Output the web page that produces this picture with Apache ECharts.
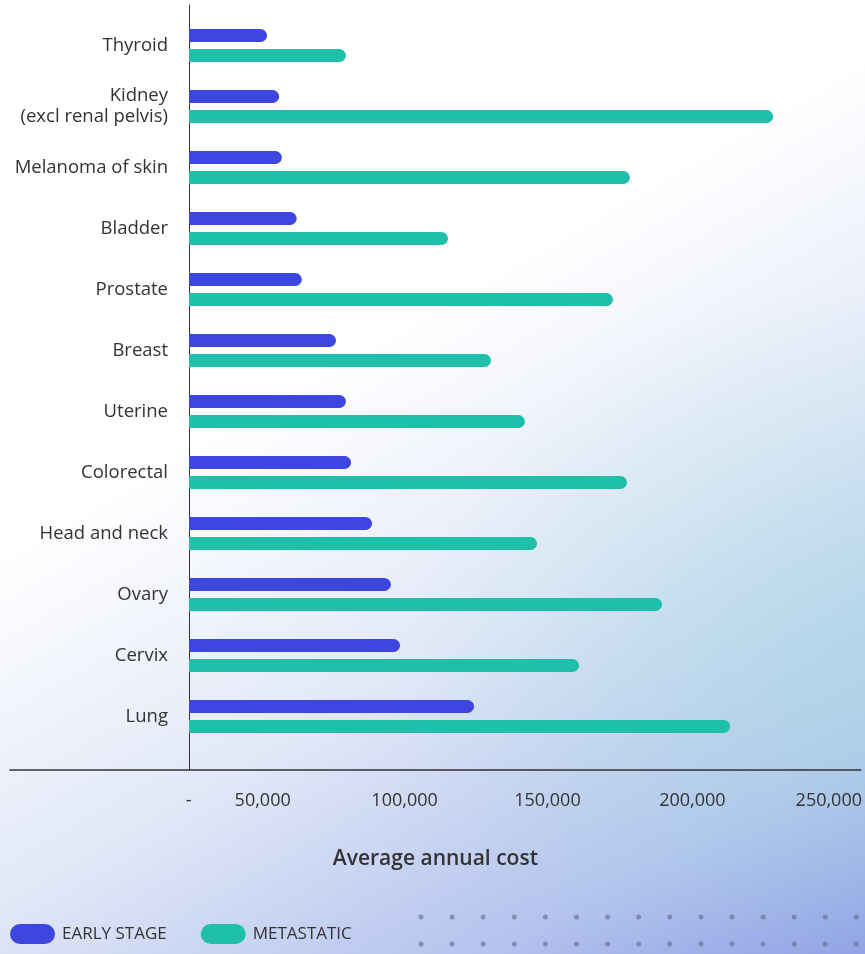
<!DOCTYPE html>
<html>
<head>
<meta charset="utf-8">
<script src="https://cdn.jsdelivr.net/npm/echarts@6/dist/echarts.min.js"></script>
<style>
  html, body { margin: 0; padding: 0; }
  #chart {
    width: 865px;
    height: 954px;
    background:
      radial-gradient(ellipse 460px 380px at 100% 70%, rgba(168, 222, 226, 0.55), rgba(168, 222, 226, 0) 100%),
      linear-gradient(150deg, #ffffff 0%, #ffffff 38%, #e0e7f7 63%, #b4c3ee 85%, #8d99e6 100%);
  }
</style>
</head>
<body>
<div id="chart"></div>
<script>
// cancer types, top to bottom
const categories = [
  'Thyroid', 'Kidney\n(excl renal pelvis)', 'Melanoma of skin', 'Bladder', 'Prostate',
  'Breast', 'Uterine', 'Colorectal', 'Head and neck', 'Ovary', 'Cervix', 'Lung'
];
const earlyStage = [29000, 33500, 34500, 40000, 41900, 54600, 58300, 60200, 68000, 75000, 78400, 105900];
const metastatic = [58300, 217000, 163800, 96200, 157500, 112200, 124800, 162700, 129300, 175700, 144900, 201000];
const tickValues = [0, 50000, 100000, 150000, 200000, 250000];
const tickShift = [0, 121, 106, 89, 68, 64]; // label nudges (px of right padding)

const X_MAX = 250000;
const X_MIN_FRAME = -66500; // lets the bottom axis line run out to the left edge

const BLUE = '#3d46de';
const GREEN = '#20bfaa';
const FONT = '"Open Sans", "Noto Sans", sans-serif';

const chart = echarts.init(document.getElementById('chart'));

// dotted decoration bottom right
const dots = [];
for (let r = 0; r < 2; r++) {
  for (let c = 0; c < 15; c++) {
    dots.push({
      type: 'circle',
      shape: { cx: 421 + c * 31.1, cy: 917 + r * 27, r: 2.5 },
      style: { fill: 'rgba(105,110,145,0.65)' },
      silent: true
    });
  }
}

const rich = {};
tickShift.forEach((p, i) => {
  rich['t' + i] = { fontSize: 18, color: '#333', fontFamily: FONT, padding: [0, p, 0, 0] };
});

const option = {
  backgroundColor: 'transparent',
  textStyle: { fontFamily: FONT },
  grid: [
    { left: 189, right: 3, top: 15, height: 732 },
    { left: 10, right: 3, top: 5, bottom: 184 }
  ],
  xAxis: [
    {
      gridIndex: 0, type: 'value', min: 0, max: X_MAX,
      axisLine: { show: false }, axisTick: { show: false },
      axisLabel: { show: false }, splitLine: { show: false }
    },
    {
      gridIndex: 1, type: 'value', min: X_MIN_FRAME, max: X_MAX,
      axisLine: { show: true, lineStyle: { color: '#333', width: 1.5 } },
      axisTick: { show: false },
      splitLine: { show: false },
      axisLabel: {
        customValues: tickValues,
        margin: 22,
        formatter: (v) => {
          const i = tickValues.indexOf(v);
          const txt = v === 0 ? '-' : v.toLocaleString('en-US');
          return '{t' + i + '|' + txt + '}';
        },
        rich: rich
      },
      name: 'Average annual cost',
      nameLocation: 'middle',
      nameGap: 79,
      nameTextStyle: { fontSize: 21, fontWeight: 600, color: '#333', fontFamily: FONT }
    }
  ],
  yAxis: [
    {
      gridIndex: 0, type: 'category', data: categories, inverse: true,
      axisLine: { show: false }, axisTick: { show: false },
      axisLabel: {
        fontSize: 18.5, color: '#333', margin: 21, lineHeight: 21,
        padding: [0, 0, 7, 0], fontFamily: FONT
      }
    },
    {
      gridIndex: 1, type: 'value', min: 0, max: 1,
      axisLine: { show: true, onZero: true, lineStyle: { color: '#333', width: 1 } },
      axisTick: { show: false }, axisLabel: { show: false }, splitLine: { show: false }
    }
  ],
  legend: {
    left: 10, top: 924, padding: 0,
    itemWidth: 45, itemHeight: 20, itemGap: 34,
    icon: 'path://M10,0 H35 A10,10 0 0 1 35,20 H10 A10,10 0 0 1 10,0 Z',
    textStyle: { fontSize: 17, color: '#333', fontFamily: FONT, padding: [0, 0, 0, 2] },
    data: ['EARLY STAGE', 'METASTATIC']
  },
  series: [
    {
      name: 'EARLY STAGE', type: 'bar', xAxisIndex: 0, yAxisIndex: 0,
      data: earlyStage, barWidth: 13, barGap: '54%',
      itemStyle: { color: BLUE, borderRadius: [0, 7, 7, 0] }
    },
    {
      name: 'METASTATIC', type: 'bar', xAxisIndex: 0, yAxisIndex: 0,
      data: metastatic, barWidth: 13, barGap: '54%',
      itemStyle: { color: GREEN, borderRadius: [0, 7, 7, 0] }
    }
  ],
  graphic: dots
};

chart.setOption(option);
</script>
</body>
</html>
